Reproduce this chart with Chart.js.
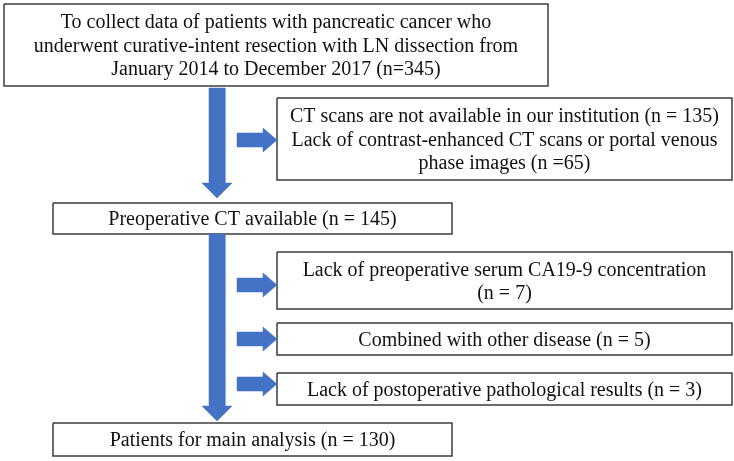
<!DOCTYPE html>
<html>
<head>
<meta charset="utf-8">
<script src="https://cdn.jsdelivr.net/npm/chart.js@4"></script>
<style>
  html, body { margin: 0; padding: 0; background: #fff; }
  canvas { display: block; }
</style>
</head>
<body>
<canvas id="flow" width="734" height="461"></canvas>
<script>
// counts shown in the flow chart
const counts = [345, 135, 65, 145, 7, 5, 3, 130];

// text of each box (one array per box, one string per line)
const boxLines = [
  ["To collect data of patients with pancreatic cancer who",
   "underwent curative-intent resection with LN dissection from",
   "January 2014 to December 2017 (n=" + counts[0] + ")"],
  ["CT scans are not available in our institution (n = " + counts[1] + ")",
   "Lack of contrast-enhanced CT scans or portal venous",
   "phase images (n =" + counts[2] + ")"],
  ["Preoperative CT available (n = " + counts[3] + ")"],
  ["Lack of preoperative serum CA19-9 concentration",
   "(n = " + counts[4] + ")"],
  ["Combined with other disease (n = " + counts[5] + ")"],
  ["Lack of postoperative pathological results (n = " + counts[6] + ")"],
  ["Patients for main analysis (n = " + counts[7] + ")"]
];

// layout of the diagram in its own units (x 0..734, y 0..461 top-down)
const boxLeft   = [4, 277, 53, 277, 277, 277, 53];
const boxRight  = [548, 732, 452, 732, 732, 732, 452];
const boxTop    = [4, 98, 203, 252, 323, 373, 423];
const boxBottom = [86, 180, 234, 309, 355, 405, 456];

// vertical arrows: centre x, start y, tip y
const downX = [217, 217];
const downFrom = [88, 234];
const downTo = [198, 421];
// horizontal arrows: start x, tip x, centre y
const sideFrom = [237, 237, 237, 237];
const sideTo = [277, 277, 277, 277];
const sideY = [140, 285, 339, 384];

const blue = "#4472C4";
const edge = "#3c3c3c";

function rect(i) {
  return [
    { x: boxLeft[i], y: boxTop[i] },
    { x: boxRight[i], y: boxTop[i] },
    { x: boxRight[i], y: boxBottom[i] },
    { x: boxLeft[i], y: boxBottom[i] },
    { x: boxLeft[i], y: boxTop[i] }
  ];
}

function downArrow(cx, y0, y1) {
  const s = 8, h = 15, len = 15;
  return [
    { x: cx - s, y: y0 }, { x: cx + s, y: y0 },
    { x: cx + s, y: y1 - len }, { x: cx + h, y: y1 - len },
    { x: cx, y: y1 },
    { x: cx - h, y: y1 - len }, { x: cx - s, y: y1 - len },
    { x: cx - s, y: y0 }
  ];
}

function sideArrow(x0, x1, cy) {
  const s = 7, h = 12, len = 14;
  return [
    { x: x0, y: cy - s }, { x: x1 - len, y: cy - s },
    { x: x1 - len, y: cy - h }, { x: x1, y: cy },
    { x: x1 - len, y: cy + h }, { x: x1 - len, y: cy + s },
    { x: x0, y: cy + s }, { x: x0, y: cy - s }
  ];
}

const datasets = [];
downX.forEach((cx, i) => {
  datasets.push({
    data: downArrow(cx, downFrom[i], downTo[i]),
    showLine: true, fill: "shape", backgroundColor: blue,
    borderColor: blue, borderWidth: 0.5, pointRadius: 0, tension: 0
  });
});
sideY.forEach((cy, i) => {
  datasets.push({
    data: sideArrow(sideFrom[i], sideTo[i], cy),
    showLine: true, fill: "shape", backgroundColor: blue,
    borderColor: blue, borderWidth: 0.5, pointRadius: 0, tension: 0
  });
});
boxLines.forEach((_, i) => {
  datasets.push({
    data: rect(i),
    showLine: true, fill: "shape", backgroundColor: "#ffffff",
    borderColor: edge, borderWidth: 1.5, pointRadius: 0, tension: 0
  });
});

const boxText = {
  id: "boxText",
  afterDatasetsDraw(chart) {
    const { ctx, scales: { x, y } } = chart;
    ctx.save();
    ctx.fillStyle = "#111";
    ctx.font = "20px 'Liberation Serif', 'Times New Roman', serif";
    ctx.textAlign = "center";
    ctx.textBaseline = "middle";
    boxLines.forEach((lines, i) => {
      const cx = x.getPixelForValue((boxLeft[i] + boxRight[i]) / 2);
      const cy = y.getPixelForValue((boxTop[i] + boxBottom[i]) / 2 + 1.5);
      const lh = 23.5;
      lines.forEach((t, k) => {
        ctx.fillText(t, cx, cy + (k - (lines.length - 1) / 2) * lh);
      });
    });
    ctx.restore();
  }
};

new Chart(document.getElementById("flow"), {
  type: "scatter",
  data: { datasets },
  options: {
    responsive: false,
    animation: false,
    layout: { padding: 0 },
    scales: {
      x: { type: "linear", min: 0, max: 734, display: false },
      y: { type: "linear", min: 0, max: 461, reverse: true, display: false }
    },
    plugins: { legend: { display: false }, tooltip: { enabled: false } }
  },
  plugins: [boxText]
});
</script>
</body>
</html>
